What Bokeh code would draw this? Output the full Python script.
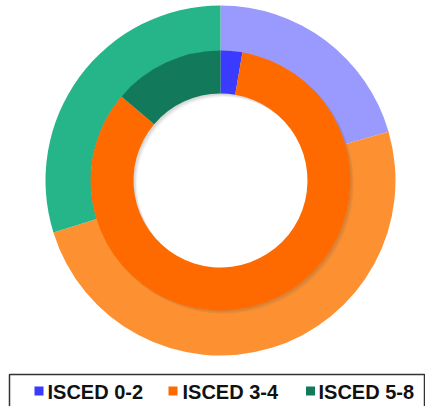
import numpy as np
from bokeh.plotting import figure
from bokeh.models import Range1d
from bokeh.core.properties import value
from bokeh.embed import file_html
from bokeh.resources import INLINE

# ---- data ----
categories = ["ISCED 0-2", "ISCED 3-4", "ISCED 5-8"]
outer_values = [20.5, 49.7, 29.8]   # outer ring shares (%)
inner_values = [2.7, 83.5, 13.8]    # inner ring shares (%)
outer_colors = ["#9A99FD", "#FD9132", "#26B589"]
inner_colors = ["#3B3BFF", "#FF6A00", "#127A5A"]
legend_colors = ["#3B3BFF", "#FF6A00", "#127A5A"]

# ---- layout ----
W, H = 425, 406
cx, cy = 220, -180
r_outer, r_mid, r_hole = 175, 130, 87

p = figure(width=W, height=H, output_backend="svg", toolbar_location=None,
           x_range=Range1d(0, W), y_range=Range1d(-H, 0),
           min_border=0, outline_line_color=None)
p.axis.visible = False
p.grid.visible = False
p.background_fill_color = "white"
p.border_fill_color = "white"


def angles(vals):
    v = np.array(vals, dtype=float)
    frac = v / v.sum()
    ends = np.cumsum(frac) * 2 * np.pi
    starts = ends - frac * 2 * np.pi
    # clockwise from 12 o'clock
    return np.pi / 2 - starts, np.pi / 2 - ends


so, eo = angles(outer_values)
p.annular_wedge(x=cx, y=cy, inner_radius=r_mid - 0.5, outer_radius=r_outer,
                start_angle=so, end_angle=eo, direction="clock",
                fill_color=outer_colors, line_color=None)

si, ei = angles(inner_values)
# soft shadow of inner ring
for k, a in [(3.5, 0.06), (2.5, 0.08), (1.5, 0.1)]:
    p.annulus(x=cx + k, y=cy - k, inner_radius=r_hole, outer_radius=r_mid,
              fill_color="#555555", fill_alpha=a, line_color=None)
p.annular_wedge(x=cx, y=cy, inner_radius=r_hole, outer_radius=r_mid,
                start_angle=si, end_angle=ei, direction="clock",
                fill_color=inner_colors, line_color=None)

# ---- legend ----
p.quad(left=9, right=424, top=-374, bottom=-420, fill_color=None,
       line_color="#333333", line_width=1.5)
mx = [38.5, 172.5, 310]
tx = [47, 182, 318]
p.scatter(x=mx, y=[-390.5] * 3, marker="square", size=9,
          fill_color=legend_colors, line_color=None)
p.text(x=tx, y=[-391] * 3, text=categories, text_baseline="middle",
       text_font=value("Liberation Sans"), text_font_style="bold",
       text_font_size="20px", text_color="#111111")

open("out.html", "w").write(file_html(p, INLINE))
